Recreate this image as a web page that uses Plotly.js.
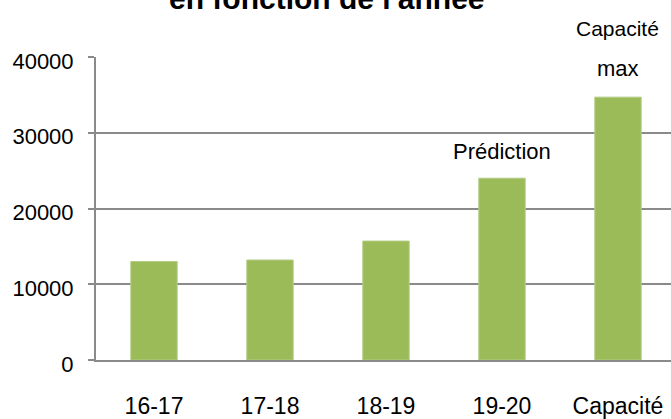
<!DOCTYPE html>
<html>
<head>
<meta charset="utf-8">
<script src="https://cdn.plot.ly/plotly-3.0.1.min.js"></script>
<style>html,body{margin:0;padding:0;background:#fff;overflow:hidden}#chart{width:671px;height:419px}</style>
</head>
<body>
<div id="chart"></div>
<script>
const categories = ["16-17", "17-18", "18-19", "19-20", "Capacité<br>max"];
const values = [13000, 13200, 15700, 24000, 34700];
const titleText = "en fonction de l'année";
const yTicks = [0, 10000, 20000, 30000, 40000];

const FONT = "Liberation Sans, Arial, sans-serif";
const GRID = "#8a8a8a";

const trace = {
  type: "bar",
  x: categories,
  y: values,
  marker: {color: "#9bbb59", line: {color: "#b3cc85", width: 1}},
  width: 0.4,
  hoverinfo: "none"
};

const layout = {
  width: 671, height: 419,
  margin: {l: 96, r: 0, t: 57, b: 59},
  paper_bgcolor: "#fff", plot_bgcolor: "#fff",
  showlegend: false,
  font: {family: FONT, size: 22, color: "#000"},
  xaxis: {
    type: "category",
    range: [-0.5, 4.457],
    showgrid: false,
    showline: true, linecolor: GRID, linewidth: 2,
    ticks: "", tickfont: {family: FONT, size: 23},
    ticklabelstandoff: 24,
    zeroline: false, fixedrange: true
  },
  yaxis: {
    range: [0, 40000],
    tickvals: yTicks,
    ticktext: yTicks.map(String),
    showgrid: true, gridcolor: GRID, gridwidth: 2,
    showline: true, linecolor: GRID, linewidth: 2,
    ticks: "outside", ticklen: 6, tickcolor: GRID, tickwidth: 2,
    ticklabelstandoff: 10,
    ticklabelshift: 4,
    tickfont: {family: FONT, size: 22},
    zeroline: false, fixedrange: true
  },
  annotations: [
    {text: "<b>" + titleText + "</b>", xref: "paper", yref: "paper", x: 0.4017, y: 1, yshift: 40, xanchor: "center", yanchor: "bottom", showarrow: false, font: {family: FONT, size: 30}},
    {text: "Prédiction", x: categories[3], y: values[3], xref: "x", yref: "y", yanchor: "bottom", yshift: 12, showarrow: false, font: {family: FONT, size: 22}},
    {text: "max", x: categories[4], y: values[4], xref: "x", yref: "y", yanchor: "bottom", yshift: 14, showarrow: false, font: {family: FONT, size: 22}},
    {text: "Capacité", x: categories[4], y: values[4], xref: "x", yref: "y", yanchor: "bottom", yshift: 55, showarrow: false, font: {family: FONT, size: 21}}
  ]
};

Plotly.newPlot("chart", [trace], layout, {staticPlot: true, displayModeBar: false});
</script>
</body>
</html>
